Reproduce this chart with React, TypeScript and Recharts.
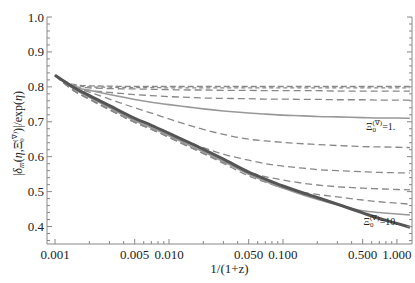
import { LineChart, Line, XAxis, YAxis, ReferenceDot, Label } from 'recharts';

// sample points along 1/(1+z)
const xValues = [0.001, 0.0015, 0.002, 0.003, 0.005, 0.007, 0.01, 0.015, 0.02, 0.03, 0.05, 0.07, 0.1, 0.15, 0.2, 0.3, 0.5, 0.7, 1.0, 1.3];

const top1 = [0.833, 0.806, 0.803, 0.802, 0.801, 0.801, 0.801, 0.801, 0.801, 0.801, 0.801, 0.801, 0.801, 0.801, 0.801, 0.801, 0.801, 0.801, 0.801, 0.801];
const top2 = [0.833, 0.803, 0.8, 0.799, 0.798, 0.798, 0.797, 0.797, 0.797, 0.797, 0.797, 0.797, 0.797, 0.797, 0.797, 0.797, 0.797, 0.797, 0.797, 0.797];
const dash3 = [0.833, 0.8, 0.797, 0.795, 0.794, 0.793, 0.792, 0.791, 0.791, 0.79, 0.79, 0.789, 0.789, 0.789, 0.789, 0.788, 0.788, 0.788, 0.788, 0.788];
const dash4 = [0.833, 0.797, 0.79, 0.784, 0.778, 0.775, 0.772, 0.77, 0.768, 0.767, 0.766, 0.765, 0.765, 0.764, 0.764, 0.763, 0.763, 0.762, 0.762, 0.762];
const xiOne = [0.833, 0.799, 0.79, 0.778, 0.764, 0.756, 0.749, 0.742, 0.737, 0.731, 0.725, 0.722, 0.719, 0.717, 0.715, 0.714, 0.712, 0.711, 0.711, 0.71];
const dash6 = [0.833, 0.797, 0.785, 0.765, 0.74, 0.725, 0.708, 0.69, 0.678, 0.664, 0.65, 0.645, 0.641, 0.637, 0.635, 0.632, 0.629, 0.628, 0.627, 0.626];
const dash7 = [0.833, 0.788, 0.766, 0.736, 0.7, 0.68, 0.658, 0.64, 0.626, 0.607, 0.59, 0.58, 0.573, 0.567, 0.563, 0.56, 0.557, 0.555, 0.554, 0.553];
const dash8 = [0.833, 0.787, 0.765, 0.735, 0.699, 0.679, 0.656, 0.629, 0.61, 0.584, 0.556, 0.543, 0.533, 0.524, 0.519, 0.514, 0.51, 0.508, 0.506, 0.505];
const dash9 = [0.833, 0.786, 0.764, 0.734, 0.698, 0.678, 0.655, 0.628, 0.609, 0.581, 0.545, 0.527, 0.51, 0.498, 0.492, 0.485, 0.476, 0.471, 0.467, 0.464];
const xiTen = [0.833, 0.792, 0.77, 0.74, 0.703, 0.683, 0.66, 0.633, 0.614, 0.586, 0.55, 0.53, 0.51, 0.49, 0.478, 0.462, 0.445, 0.44, 0.436, 0.433];
const thick = [0.833, 0.796, 0.775, 0.746, 0.71, 0.69, 0.667, 0.64, 0.621, 0.593, 0.556, 0.536, 0.516, 0.496, 0.483, 0.464, 0.439, 0.423, 0.409, 0.398];

const xMajorTicks = [0.001, 0.005, 0.01, 0.05, 0.1, 0.5, 1];
const xMinorTicks = [0.002, 0.003, 0.004, 0.006, 0.007, 0.008, 0.009, 0.02, 0.03, 0.04, 0.06, 0.07, 0.08, 0.09, 0.2, 0.3, 0.4, 0.6, 0.7, 0.8, 0.9];
const yMajorTicks = [0.4, 0.5, 0.6, 0.7, 0.8, 0.9, 1.0];
const yMinorTicks = [0.36, 0.38, 0.42, 0.44, 0.46, 0.48, 0.52, 0.54, 0.56, 0.58, 0.62, 0.64, 0.66, 0.68, 0.72, 0.74, 0.76, 0.78, 0.82, 0.84, 0.86, 0.88, 0.92, 0.94, 0.96, 0.98];

const data = xValues.map((x, i) => ({
  x,
  top1: top1[i], top2: top2[i], dash3: dash3[i], dash4: dash4[i], xiOne: xiOne[i],
  dash6: dash6[i], dash7: dash7[i], dash8: dash8[i], dash9: dash9[i], xiTen: xiTen[i], thick: thick[i],
}));

const AXIS = '#888';
const TEXT = '#222';
const FONT = 'Liberation Serif';
const X_DOMAIN = [0.00085, 1.355];
const Y_DOMAIN = [0.35, 1.0];

const series = [
  { key: 'top1', color: '#888', width: 1.3, dash: '6 3' },
  { key: 'top2', color: '#888', width: 1.3, dash: '4 3' },
  { key: 'dash3', color: '#888', width: 1.3, dash: '7 4' },
  { key: 'dash4', color: '#888', width: 1.3, dash: '7 4' },
  { key: 'xiOne', color: '#999', width: 1.6, dash: undefined },
  { key: 'dash6', color: '#888', width: 1.3, dash: '7 4' },
  { key: 'dash7', color: '#888', width: 1.3, dash: '7 4' },
  { key: 'dash8', color: '#888', width: 1.3, dash: '7 4' },
  { key: 'dash9', color: '#888', width: 1.3, dash: '7 4' },
  { key: 'xiTen', color: '#999', width: 1.6, dash: undefined },
  { key: 'thick', color: '#555', width: 3, dash: undefined },
];

const xMajorSet = new Set(xMajorTicks);
const yMajorSet = new Set(yMajorTicks);

function XTick(props: any) {
  const { x, y, payload } = props;
  const major = xMajorSet.has(payload.value);
  return (
    <g>
      <line x1={x} x2={x} y1={y} y2={y - (major ? 5 : 3)} stroke={AXIS} />
      {major && (
        <text x={x} y={y + 15} textAnchor="middle" fontFamily={FONT} fontSize={13} fill={TEXT}>
          {payload.value.toFixed(3)}
        </text>
      )}
    </g>
  );
}

function YTickLeft(props: any) {
  const { x, y, payload } = props;
  const major = yMajorSet.has(payload.value);
  return (
    <g>
      <line x1={x} x2={x + (major ? 5 : 3)} y1={y} y2={y} stroke={AXIS} />
      {major && (
        <text x={x - 3} y={y + 4.5} textAnchor="end" fontFamily={FONT} fontSize={13} fill={TEXT}>
          {payload.value.toFixed(1)}
        </text>
      )}
    </g>
  );
}

function YTickRight(props: any) {
  const { x, y, payload } = props;
  const major = yMajorSet.has(payload.value);
  return <line x1={x} x2={x - (major ? 5 : 3)} y1={y} y2={y} stroke={AXIS} />;
}

function YLabel(props: any) {
  const { viewBox } = props;
  const cx = viewBox.x + 22;
  const cy = viewBox.y + viewBox.height / 2 + 3;
  return (
    <text x={cx} y={cy} transform={`rotate(-90 ${cx} ${cy})`} textAnchor="middle" fontFamily={FONT} fontSize={12} fill={TEXT}>
      |<tspan fontStyle="italic">δ</tspan><tspan fontSize={8} dy={2} fontStyle="italic">m</tspan><tspan dy={-2}>(</tspan><tspan fontStyle="italic">η</tspan>,Ξ<tspan fontSize={7} dy={2}>0</tspan><tspan fontSize={7} dx={-3.5} dy={-7}>(∇)</tspan><tspan dy={5}>)|/exp(</tspan><tspan fontStyle="italic">η</tspan>)
    </text>
  );
}

function XiTag({ cx, cy, text }: { cx: number; cy: number; text: string }) {
  return (
    <text x={cx} y={cy + 3} textAnchor="middle" fontFamily={FONT} fontSize={10} fill={TEXT}>
      Ξ<tspan fontSize={7} dy={2}>0</tspan><tspan fontSize={7} dx={-3.5} dy={-7}>(∇)</tspan><tspan dy={5}>{text}</tspan>
    </text>
  );
}

export default function App() {
  return (
    <div style={{ position: 'absolute', left: 0, top: 0 }}>
      <LineChart width={415} height={283} data={data} margin={{ top: 17, right: 2, bottom: 9, left: 0 }}>
        <XAxis
          dataKey="x"
          type="number"
          scale="log"
          domain={X_DOMAIN}
          allowDataOverflow
          ticks={[...xMajorTicks, ...xMinorTicks]}
          interval={0}
          tick={<XTick />}
          tickLine={false}
          tickSize={0}
          tickMargin={0}
          height={30}
          stroke={AXIS}
        >
          <Label value="1/(1+z)" position="bottom" offset={-10} fontFamily={FONT} fontSize={13} fill={TEXT} />
        </XAxis>
        <YAxis
          type="number"
          domain={Y_DOMAIN}
          allowDataOverflow
          ticks={[...yMajorTicks, ...yMinorTicks]}
          interval={0}
          tick={<YTickLeft />}
          tickLine={false}
          tickSize={0}
          tickMargin={0}
          width={47}
          stroke={AXIS}
          label={<YLabel />}
        />
        <YAxis
          yAxisId="right"
          orientation="right"
          type="number"
          domain={Y_DOMAIN}
          allowDataOverflow
          ticks={[...yMajorTicks, ...yMinorTicks]}
          interval={0}
          tick={<YTickRight />}
          tickLine={false}
          tickSize={0}
          tickMargin={0}
          width={1}
          stroke={AXIS}
        />
        {series.map((s) => (
          <Line
            key={s.key}
            dataKey={s.key}
            type="monotone"
            stroke={s.color}
            strokeWidth={s.width}
            strokeDasharray={s.dash}
            dot={false}
            isAnimationActive={false}
          />
        ))}
        <ReferenceDot x={0.72} y={0.684} r={0} ifOverflow="visible" shape={(p: any) => <XiTag cx={p.cx} cy={p.cy} text="=1." />} />
        <ReferenceDot x={0.72} y={0.413} r={0} ifOverflow="visible" shape={(p: any) => <XiTag cx={p.cx} cy={p.cy} text="=10." />} />
      </LineChart>
    </div>
  );
}
